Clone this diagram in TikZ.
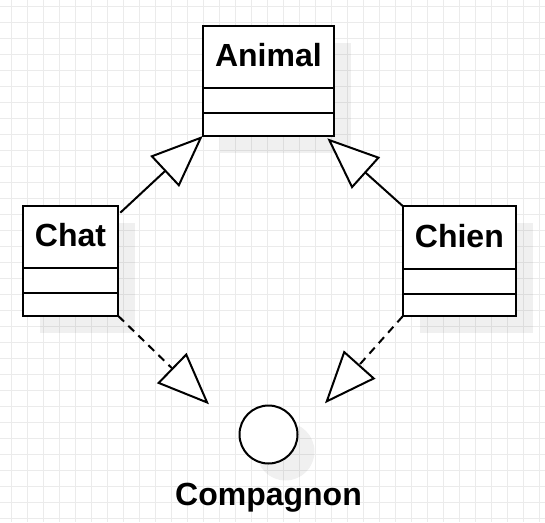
\documentclass[tikz,border=0pt]{standalone}
\usepackage{fontspec}
\setmainfont{Liberation Sans}
\usetikzlibrary{positioning,arrows.meta,backgrounds}
\definecolor{gridgray}{RGB}{235,235,235}
\begin{document}
\begin{tikzpicture}[x=1pt, y=-1pt, line width=2pt,
  head/.style={draw, fill=white, minimum height=62.6pt, inner sep=0pt, outer sep=0pt, font=\fontsize{32}{38}\selectfont\bfseries, text height=23pt, text depth=3.2pt},
  slot/.style={draw, fill=white, inner sep=0pt, outer sep=0pt},
  gen/.style={-{Triangle[length=52pt, width=42pt, fill=white]}},
  real/.style={gen, dash pattern=on 8pt off 6pt},
  shade/.style={fill=black, opacity=0.06}]

 \useasboundingbox (0,0) rectangle (545,522);
 \begin{scope}[on background layer, shift={(11.7,6)}]
  \draw[gridgray, line width=1pt, step=16pt] (-11.7,-6) grid (533.3,516);
 \end{scope}

 % classes
 \node[head, minimum width=131.3pt, anchor=north west] (animal) at (202.7,25.7){Animal};
 \node[slot, minimum width=131.3pt, minimum height=25pt, below=0pt of animal] (animalA){};
 \node[slot, minimum width=131.3pt, minimum height=22.7pt, below=0pt of animalA] (animalM){};

 \node[head, minimum width=95.6pt, anchor=north west] (chat) at (22.7,205.7){Chat};
 \node[slot, minimum width=95.6pt, minimum height=25pt, below=0pt of chat] (chatA){};
 \node[slot, minimum width=95.6pt, minimum height=22.7pt, below=0pt of chatA] (chatM){};

 \node[head, minimum width=113.3pt, anchor=north west] (chien) at (402.7,206){Chien};
 \node[slot, minimum width=113.3pt, minimum height=25pt, below=0pt of chien] (chienA){};
 \node[slot, minimum width=113.3pt, minimum height=22.7pt, below=0pt of chienA] (chienM){};

 % interface
 \node[draw, circle, fill=white, minimum size=58pt, inner sep=0pt, outer sep=0pt] (comp) at (268.5,434.5){};
 \node[font=\fontsize{32}{38}\selectfont\bfseries, inner sep=0pt, text height=23pt, below=18.3pt of comp] (complabel){Compagnon};

 \begin{scope}[on background layer]
  \fill[shade] ([shift={(17,17)}]animal.north west) rectangle ([shift={(17,17)}]animalM.south east);
  \fill[shade] ([shift={(17,17)}]chat.north west) rectangle ([shift={(17,17)}]chatM.south east);
  \fill[shade] ([shift={(17,17)}]chien.north west) rectangle ([shift={(17,17)}]chienM.south east);
  \fill[shade] ([shift={(17,17)}]comp.center) circle (29);
 \end{scope}

 \coordinate (tipR) at (327.3,138.3);
 \coordinate (tipCL) at (209,404.3);
 \coordinate (tipCR) at (325,403.3);
 \draw[gen] ([shift={(2,7)}]chat.north east) -- (animalM.south west);
 \draw[gen] (chien.north west) -- (tipR);
 \draw[real] (chatM.south east) -- (tipCL);
 \draw[real] (chienM.south west) -- (tipCR);

\end{tikzpicture}
\end{document}
